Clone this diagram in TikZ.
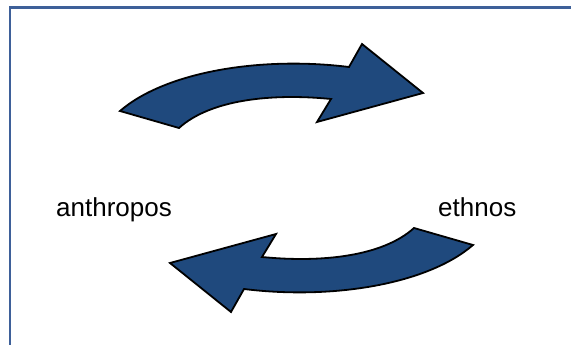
\documentclass[tikz,border=0pt]{standalone}
\usepackage{fontspec}
\setmainfont{Liberation Sans}
\begin{document}
\begin{tikzpicture}[x=1pt,y=-1pt,
  arrowshape/.style={fill={rgb,255:red,31;green,73;blue,125},draw=black,line width=1.8pt,line join=miter},
  frameline/.style={draw={rgb,255:red,62;green,96;blue,153},line width=2.6pt},
  lbl/.style={font=\fontsize{26}{30}\selectfont,inner sep=0pt,anchor=base west}]
\useasboundingbox (0,0) rectangle (571,345);
\clip (0,0) rectangle (571,345);
\draw[frameline] (9.8,360) -- (9.8,7.6) -- (590,7.6);
\path[arrowshape] (120,111) .. controls (165,72) and (260,56) .. (349,67)
  -- (362,44) -- (423,93) -- (317,122) -- (331,99)
  .. controls (270,93) and (210,100) .. (179,128) -- cycle;
\begin{scope}[rotate around={180:(296.5,178)}]
\path[arrowshape] (120,111) .. controls (165,72) and (260,56) .. (349,67)
  -- (362,44) -- (423,93) -- (317,122) -- (331,99)
  .. controls (270,93) and (210,100) .. (179,128) -- cycle;
\end{scope}
\node[lbl] (anthropos) at (56,216) {anthropos};
\node[lbl] (ethnos) at (438,216) {ethnos};
\end{tikzpicture}
\end{document}
